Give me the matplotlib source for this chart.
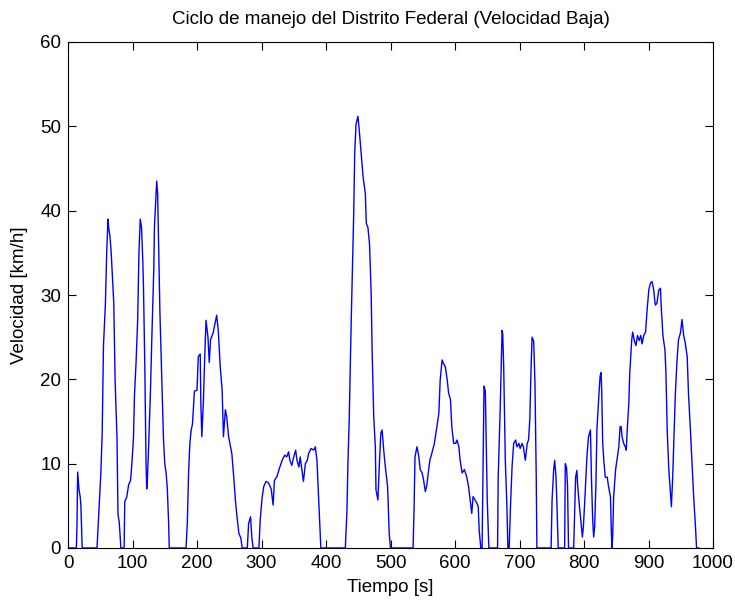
import matplotlib
matplotlib.use("Agg")
import matplotlib.pyplot as plt

tiempo = [0, 13, 14, 15, 17, 19, 20, 22, 45, 47, 51, 53, 55, 58, 60, 62, 63, 65, 67, 71, 73, 76, 77.5, 79.5, 82,
          87, 88, 91, 94, 97, 99, 101.5, 103, 105.5, 108, 110, 112, 114, 116, 117, 119, 121, 122, 123, 125, 128,
          130, 133, 134, 136, 137.5, 139, 140, 142.5, 145, 148, 150, 152, 154, 156, 157,
          183, 185, 187, 189, 191, 193, 196, 200, 202, 205, 206, 207.5, 210, 212, 214, 217, 219, 221, 225, 229,
          230.5, 233, 236, 239, 241, 244, 246, 249, 252, 254, 257, 259.5, 262, 265, 268, 270,
          278, 280, 283, 285, 287, 296, 298, 301, 303.5, 307, 311, 315, 318, 320, 324, 328, 332, 336, 339, 342,
          344, 347, 350, 353, 355, 358, 360, 363, 365, 368, 371, 373, 377, 381, 383.5, 386, 389, 392,
          430, 432.5, 434, 436, 439, 441, 443, 444.5, 446.5, 449.5, 451.5, 455, 457.5, 461, 462.5, 465, 467.5,
          470, 471.5, 474, 476.5, 477.5, 480.5, 483, 485, 487, 489.5, 492, 495.5, 498, 500,
          535, 536.5, 538, 541, 544, 546, 549, 551, 554, 556, 559, 561, 564, 568, 572, 575, 577, 580, 582, 585,
          588, 590, 593, 595, 598, 601, 603, 606, 608, 611, 614.5, 618, 621, 623.5, 626, 628, 631, 634, 636,
          637.5, 640, 642, 645, 647, 650, 652.5, 666, 667, 670, 673, 674, 675.5, 678, 680.5, 682, 684, 686,
          688.5, 691, 694, 696, 699, 701, 704, 706, 709, 712, 714, 716, 718, 719.5, 722, 724, 726, 727,
          749, 750.5, 753, 754.5, 756.5, 758, 760, 770, 771, 773, 774.5, 776, 784, 787, 789, 790, 792.5, 795,
          797.5, 799, 801, 804.5, 807, 810, 811.5, 813.5, 815, 816.5, 818.5, 820, 823, 825, 826.5, 827.5, 829,
          831, 833, 836, 838, 841, 842.5, 843.5, 844.5, 846, 849, 851, 854, 856, 857.5, 859, 861.5, 864, 865.5,
          867, 869.5, 871, 874, 875.5, 878, 880.5, 883, 885.5, 888, 890, 893, 895.5, 898, 900.5, 903, 905.5,
          908, 910.5, 913, 916, 918.5, 920, 922.5, 925.5, 927, 929, 931.5, 934, 935.5, 937.5, 939, 941.5, 944,
          946.5, 949.5, 952, 954.5, 957, 960, 962, 965, 967.5, 970, 972.5, 974.5, 978]

velocidad = [0, 0, 3, 9, 7, 6, 5, 0, 0, 3, 9, 13.6, 24, 29, 35, 39, 38, 37, 35, 29, 20, 13, 4, 3, 0,
             0, 5.5, 6, 7.5, 8, 10, 13, 18, 22, 27, 35, 39, 38, 34, 31, 22, 10, 7, 8, 12, 19,
             25, 33, 38, 41, 43.5, 42, 38, 28, 21, 13, 10, 9, 7, 3, 0,
             0, 3, 9, 12.5, 14, 14.7, 18.6, 18.7, 22.7, 23, 17, 13.2, 17.6, 22.7, 27, 25, 22, 24.7, 25.5, 27,
             27.6, 25.8, 21.5, 18.7, 13.2, 16.4, 15.6, 13.2, 12, 11.2, 8.4, 5.7, 3.7, 1.7, 1.2, 0,
             0, 2.9, 3.7, 1.3, 0, 0, 3.3, 6, 7.3, 7.9, 7.7, 7, 5.1, 8, 8.5, 9.5, 10.4, 11, 10.8, 11.4,
             10.4, 9.8, 10.8, 11.6, 10.4, 9.6, 10.8, 9, 7.9, 10, 10.4, 11.2, 11.8, 11.6, 12, 10.4, 5.3, 0,
             0, 4.5, 10, 15.2, 26.6, 33.4, 39.7, 46.8, 50.2, 51.2, 49.6, 46.4, 44, 42, 38.5, 38, 36,
             30.2, 23.5, 15.6, 12, 6.9, 5.7, 10.4, 13.6, 14, 11.6, 9.6, 7.3, 1.7, 0,
             0, 4.5, 10.8, 12, 10.8, 9.3, 8.9, 8.2, 6.7, 7.3, 9.2, 10.4, 11.2, 12.4, 14.4, 16, 19.9, 22.3, 21.9, 21.5,
             19.9, 18.4, 17.6, 14.4, 12.4, 12.4, 12.8, 12, 10.4, 8.9, 9.3, 8.5, 7.3, 5.7, 4.1, 6.1, 5.7, 5.3, 4.9,
             2.1, 0, 0, 19.2, 18.6, 5.7, 0, 0, 8.4, 16.3, 25.8, 25.4, 21.5, 10.4, 4.9, 0, 0, 4.9,
             9.7, 12.4, 12.8, 12, 12.4, 11.8, 12.4, 12, 10.4, 12.4, 12.8, 15.2, 21.5, 25, 24.5, 19.5, 8, 0,
             0, 5.7, 9.3, 10.4, 8.5, 5.3, 0, 0, 10, 9.5, 7.3, 0, 0, 8.4, 9.2, 7.6, 5.3, 3.3,
             1.3, 2.5, 5.3, 10.8, 13.2, 14, 8.4, 3.3, 1.3, 2.5, 7.6, 14, 18, 20.4, 20.8, 18.5, 12.4,
             10.1, 8.4, 8.4, 7.3, 6.1, 1.6, 0, 1.5, 6.1, 9.3, 10.4, 12, 14.4, 14.4, 13.2, 12.4, 12, 11.6,
             14, 17.2, 20.8, 24.7, 25.6, 24.6, 24, 25.2, 24.6, 25.2, 24.2, 25.3, 25.6, 28.4, 30.6, 31.4, 31.6,
             30.6, 28.8, 29, 30.6, 30.8, 28.2, 25.1, 23.5, 20.8, 14, 9.3, 6.5, 4.9, 8.4, 12, 18, 22,
             24.7, 25.5, 27.1, 25.2, 24.3, 22.7, 18.3, 14, 10.1, 6.1, 3, 0, 0]

xticks = list(range(0, 1001, 100))
yticks = list(range(0, 61, 10))

plt.rcParams['font.family'] = ['Liberation Sans', 'DejaVu Sans']

fig = plt.figure(figsize=(7.35, 6.04), dpi=100)
ax = fig.add_axes([68/735, 1 - 548/604, (713 - 68)/735, (548 - 42)/604])
ax.plot(tiempo, velocidad, color='#0000ff', linewidth=1.0)
ax.set_xlim(0, 1000)
ax.set_ylim(0, 60)
ax.set_xticks(xticks)
ax.set_yticks(yticks)
ax.tick_params(direction='in', top=True, right=True, length=6, width=0.8,
               labelsize=13.5, pad=5, colors='black')
for s in ax.spines.values():
    s.set_linewidth(0.8)
ax.set_xlabel('Tiempo [s]', fontsize=13.5, labelpad=5)
ax.set_ylabel('Velocidad [km/h]', fontsize=13.5, labelpad=9)
ax.set_title('Ciclo de manejo del Distrito Federal (Velocidad Baja)', fontsize=13.5, pad=13)
fig.savefig('out.png', dpi=100)
